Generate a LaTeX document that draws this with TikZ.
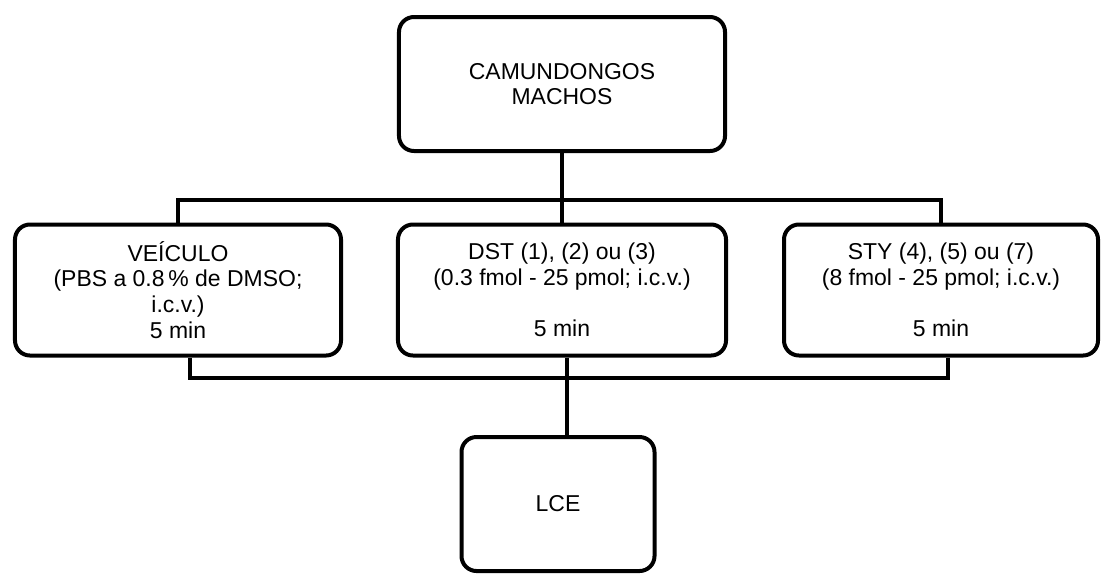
\documentclass[tikz,border=0pt]{standalone}
\usepackage{fontspec}
\setmainfont{Liberation Sans}
\usetikzlibrary{positioning}

\begin{document}
\begin{tikzpicture}[
    x=0.03cm, y=-0.03cm,
    stepbox/.style={rectangle, rounded corners=0.45cm, draw=black, line width=0.12cm,
                    fill=white, align=center, inner sep=2pt,
                    font=\fontsize{19.6}{22}\selectfont},
    link/.style={draw=black, line width=0.12cm}
  ]
    \useasboundingbox (0,0) rectangle (1102,574);

    \node[stepbox, minimum width=9.78cm, minimum height=4.02cm] (camund) at (562,84)
      {CAMUNDONGOS\\MACHOS};

    \node[stepbox, minimum width=9.78cm, minimum height=3.93cm] (veic) at (178,290)
      {VEÍCULO\\(PBS a 0.8\,\% de DMSO;\\i.c.v.)\\5 min};
    \node[stepbox, minimum width=9.84cm, minimum height=3.93cm] (dst) at (562,290)
      {DST (1), (2) ou (3)\\(0.3 fmol - 25 pmol; i.c.v.)\\[22pt]5 min};
    \node[stepbox, minimum width=9.42cm, minimum height=3.93cm] (sty) at (941,290)
      {STY (4), (5) ou (7)\\(8 fmol - 25 pmol; i.c.v.)\\[22pt]5 min};

    \node[stepbox, minimum width=5.79cm, minimum height=4.02cm] (lce) at (558,504)
      {\raisebox{-0.12cm}{LCE}};

    % Connectors
    \coordinate (bustop) at (562,200);
    \coordinate (busbot) at (567,378);
    \draw[link] (camund.south) -- (bustop);
    \draw[link] (veic.north) |- (bustop) -| (sty.north);
    \draw[link] (bustop) -- (dst.north);
    \draw[link] ([xshift=0.36cm]veic.south) |- (busbot) -| ([xshift=0.21cm]sty.south);
    \draw[link] (dst.south -| busbot) -- (lce.north -| busbot);
  \end{tikzpicture}
\end{document}
